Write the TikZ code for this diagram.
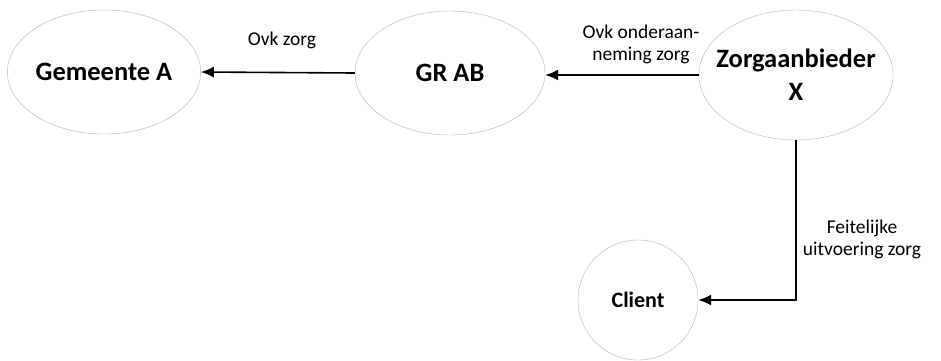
\documentclass[tikz,border=0pt]{standalone}
\usepackage{fontspec}
\setmainfont{Carlito}
\usetikzlibrary{shapes.geometric,arrows.meta}
\begin{document}
\begin{tikzpicture}[x=1pt,y=1pt]
\tikzstyle{every node}+=[inner sep=0pt]
\tikzstyle{party}=[draw=gray!60,ellipse,align=center,font=\bfseries\fontsize{26.5}{33}\selectfont]
\tikzstyle{flow}=[black,line width=1.6pt,-{Latex[length=13pt,width=11pt]}]
\tikzstyle{lbl}=[align=center,font=\fontsize{19.5}{22}\selectfont]
\useasboundingbox (0,0) rectangle (941,-360);
\node [party,minimum width=192,minimum height=124] (gemA) at (104,-72) {Gemeente A};
\node [party,minimum width=190,minimum height=124] (grAB) at (450,-73) {GR AB};
\node [party,inner xsep=-11pt,minimum width=192,minimum height=130] (zorgX) at (796,-75) {Zorgaanbieder\\X};
\node [party,circle,minimum size=120,font=\bfseries\fontsize{22}{26}\selectfont] (client) at (638,-300) {Client};
\draw [flow] (grAB.west) -- (gemA.east);
\draw [flow] (zorgX.west) -- (zorgX.west -| grAB.east);
\draw [flow] (zorgX.south) |- (client.east);
\node [lbl] (lblA) at (282,-40) {Ovk zorg};
\node [lbl] (lblB) at (641,-44) {Ovk onderaan-\\neming zorg};
\node [lbl] (lblC) at (862,-239) {Feitelijke\\uitvoering zorg};
\end{tikzpicture}
\end{document}
